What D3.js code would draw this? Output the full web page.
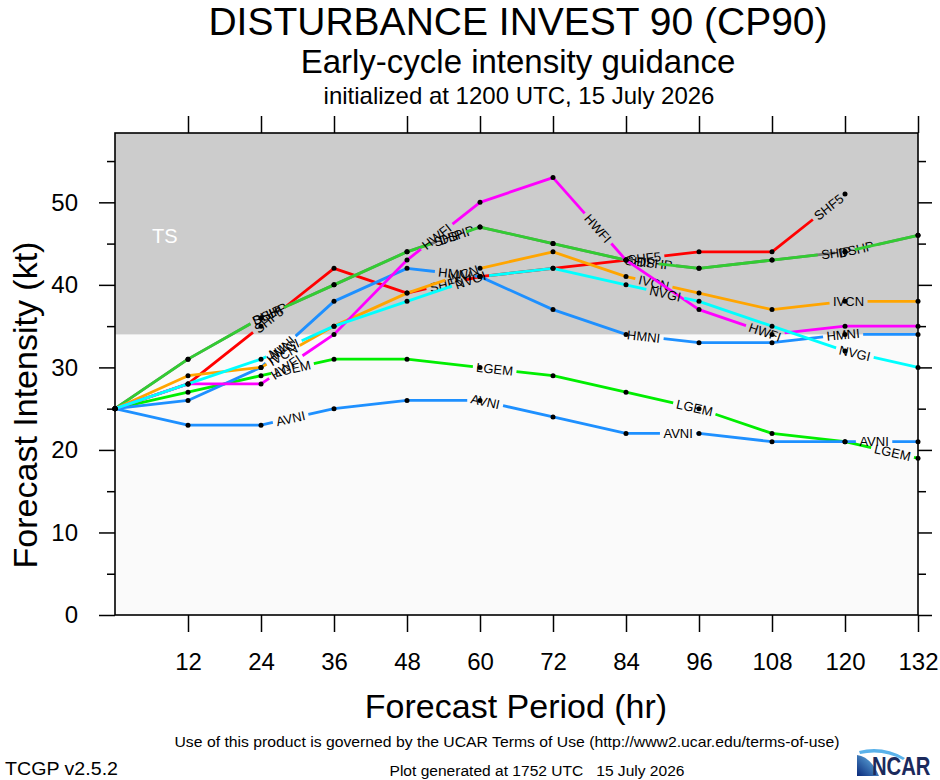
<!DOCTYPE html>
<html>
<head>
  <meta charset="utf-8">
  <script src="https://cdn.jsdelivr.net/npm/d3@7"></script>
  <style>
    body { margin: 0; background: #fff; }
    text { font-family: "Liberation Sans", Arial, Helvetica, sans-serif; }
  </style>
</head>
<body>
<div id="chart"></div>
<script>
// forecast hours and axis ticks
const hours = [0, 12, 24, 36, 48, 60, 72, 84, 96, 108, 120, 132];
const xTicks = [12, 24, 36, 48, 60, 72, 84, 96, 108, 120, 132];
const yTicks = [0, 10, 20, 30, 40, 50];
const yMinor = [5, 15, 25, 35, 45, 55];

// intensity (kt) per model
const models = ["SHF5", "DSHP", "SHIP", "LGEM", "AVNI", "HMNI", "IVCN", "HWFI", "NVGI"];
const shf5 = [25, 28, 35, 42, 39, 41, 42, 43, 44, 44, 51];
const dshp = [25, 31, 36, 40, 44, 47, 45, 43, 42, 43, 44, 46];
const ship = [25, 31, 36, 40, 44, 47, 45, 43, 42, 43, 44, 46];
const lgem = [25, 27, 29, 31, 31, 30, 29, 27, 25, 22, 21, 19];
const avni = [25, 23, 23, 25, 26, 26, 24, 22, 22, 21, 21, 21];
const hmni = [25, 26, 30, 38, 42, 41, 37, 34, 33, 33, 34, 34];
const ivcn = [25, 29, 30, 35, 39, 42, 44, 41, 39, 37, 38, 38];
const hwfi = [25, 28, 28, 34, 43, 50, 53, 43, 37, 34, 35, 35];
const nvgi = [25, 28, 31, 35, 38, 41, 42, 40, 38, 35, 32, 30];

const tsThreshold = 34;

const values = { SHF5: shf5, DSHP: dshp, SHIP: ship, LGEM: lgem, AVNI: avni,
                 HMNI: hmni, IVCN: ivcn, HWFI: hwfi, NVGI: nvgi };
const colors = { SHF5: "#ff0000", DSHP: "#7a7a7a", SHIP: "#33cc33", LGEM: "#00ee00",
                 AVNI: "#1e90ff", HMNI: "#1e90ff", IVCN: "#ffa500", HWFI: "#ff00ff",
                 NVGI: "#00ffff" };

const width = 940, height = 780;
const plotL = 115, plotR = 918, plotT = 133, plotB = 615;

const svg = d3.select("#chart").append("svg")
  .attr("width", width)
  .attr("height", height);

const x = d3.scaleLinear().domain([0, 132]).range([plotL, plotR]);
const y = d3.scaleLinear().domain([0, 58.4]).range([plotB, plotT]);

// background bands
svg.append("rect")
  .attr("x", plotL).attr("y", plotT)
  .attr("width", plotR - plotL).attr("height", plotB - plotT)
  .attr("fill", "#fafafa");
svg.append("rect")
  .attr("x", plotL).attr("y", plotT)
  .attr("width", plotR - plotL).attr("height", y(tsThreshold) - plotT)
  .attr("fill", "#cccccc");
svg.append("text")
  .attr("x", 152).attr("y", 243)
  .attr("font-size", 20).attr("fill", "#fff")
  .text("TS");

// axes
function styleAxis(g) {
  g.select(".domain").remove();
  g.selectAll(".tick line").attr("stroke", "#000").attr("stroke-width", 1.5);
  g.selectAll(".tick text").attr("fill", "#000")
    .style("font-family", '"Liberation Sans", Arial, sans-serif');
}

svg.append("g").attr("transform", `translate(0,${plotB})`)
  .call(d3.axisBottom(x).tickValues(xTicks).tickSize(17).tickPadding(21).tickFormat(d3.format("d")))
  .call(styleAxis)
  .selectAll("text").attr("font-size", 24);

svg.append("g").attr("transform", `translate(0,${plotT})`)
  .call(d3.axisTop(x).tickValues(xTicks).tickSize(17).tickFormat(""))
  .call(styleAxis);

svg.append("g").attr("transform", `translate(${plotL},0)`)
  .call(d3.axisLeft(y).tickValues(yTicks).tickSize(16).tickPadding(21).tickFormat(d3.format("d")))
  .call(styleAxis)
  .selectAll("text").attr("font-size", 24);

svg.append("g").attr("transform", `translate(${plotL},0)`)
  .call(d3.axisLeft(y).tickValues(yMinor).tickSize(8).tickFormat(""))
  .call(styleAxis);

svg.append("g").attr("transform", `translate(${plotR},0)`)
  .call(d3.axisRight(y).tickValues(yTicks).tickSize(14).tickFormat(""))
  .call(styleAxis);

svg.append("g").attr("transform", `translate(${plotR},0)`)
  .call(d3.axisRight(y).tickValues(yMinor).tickSize(8).tickFormat(""))
  .call(styleAxis);

// model lines with NCL-style inline labels
const line = d3.line();
const plot = svg.append("g");
const dotLayer = svg.append("g");
const labelSize = 13;

models.forEach(name => {
  const vals = values[name];
  const pts = vals.map((v, i) => [x(hours[i]), y(v)]);
  const g = plot.append("g");

  const path = g.append("path")
    .attr("d", line(pts))
    .attr("fill", "none")
    .attr("stroke", colors[name])
    .attr("stroke-width", 2.8)
    .attr("stroke-linejoin", "round");

  const node = path.node();
  const total = node.getTotalLength();

  const probe = g.append("text").attr("font-size", labelSize).text(name);
  const w = probe.node().getComputedTextLength();
  probe.remove();

  const gap = w + 7, dash = 160;
  const dashes = [];
  for (let c = dash + gap / 2; c + w / 2 <= total; c += dash + gap) {
    dashes.push(dash, gap);
    const p = node.getPointAtLength(c);
    const p1 = node.getPointAtLength(Math.max(0, c - 3));
    const p2 = node.getPointAtLength(Math.min(total, c + 3));
    const ang = Math.atan2(p2.y - p1.y, p2.x - p1.x) * 180 / Math.PI;
    g.append("text")
      .attr("transform", `translate(${p.x},${p.y}) rotate(${ang})`)
      .attr("text-anchor", "middle")
      .attr("dy", "0.36em")
      .attr("font-size", labelSize)
      .attr("fill", "#000")
      .text(name);
  }
  dashes.push(total + 10, total + 10);
  path.attr("stroke-dasharray", dashes.join(","));

  dotLayer.selectAll(null)
    .data(pts)
    .enter().append("circle")
    .attr("cx", d => d[0])
    .attr("cy", d => d[1])
    .attr("r", 2.5)
    .attr("fill", "#000");
});

// frame
svg.append("rect")
  .attr("x", plotL).attr("y", plotT)
  .attr("width", plotR - plotL).attr("height", plotB - plotT)
  .attr("fill", "none").attr("stroke", "#000").attr("stroke-width", 1.6);

// titles
svg.append("text").attr("x", 518).attr("y", 35)
  .attr("text-anchor", "middle").attr("font-size", 39)
  .text("DISTURBANCE INVEST 90 (CP90)");
svg.append("text").attr("x", 518).attr("y", 73)
  .attr("text-anchor", "middle").attr("font-size", 33)
  .text("Early-cycle intensity guidance");
svg.append("text").attr("x", 519).attr("y", 104)
  .attr("text-anchor", "middle").attr("font-size", 24)
  .text("initialized at 1200 UTC, 15 July 2026");

svg.append("text")
  .attr("transform", "translate(37,405) rotate(-90)")
  .attr("text-anchor", "middle").attr("font-size", 34)
  .text("Forecast Intensity (kt)");
svg.append("text").attr("x", 516).attr("y", 718)
  .attr("text-anchor", "middle").attr("font-size", 34)
  .text("Forecast Period (hr)");

// footer
svg.append("text").attr("x", 507).attr("y", 747)
  .attr("text-anchor", "middle").attr("font-size", 15)
  .attr("textLength", 665).attr("lengthAdjust", "spacingAndGlyphs")
  .text("Use of this product is governed by the UCAR Terms of Use (http://www2.ucar.edu/terms-of-use)");
svg.append("text").attr("x", 5).attr("y", 775)
  .attr("font-size", 19)
  .attr("textLength", 113).attr("lengthAdjust", "spacingAndGlyphs")
  .text("TCGP v2.5.2");
svg.append("text").attr("x", 537).attr("y", 776)
  .attr("text-anchor", "middle").attr("font-size", 14)
  .attr("textLength", 295).attr("lengthAdjust", "spacingAndGlyphs")
  .attr("xml:space", "preserve")
  .text("Plot generated at 1752 UTC   15 July 2026");

// NCAR logo
const defs = svg.append("defs");
const grad = defs.append("linearGradient").attr("id", "ncarGrad")
  .attr("x1", "0%").attr("y1", "100%").attr("x2", "100%").attr("y2", "0%");
grad.append("stop").attr("offset", "0%").attr("stop-color", "#0a2a7a");
grad.append("stop").attr("offset", "100%").attr("stop-color", "#6ec1f0");

const logo = svg.append("g").attr("transform", "translate(857,745)");
logo.append("path")
  .attr("d", "M0,10 Q14,12 22,31 L0,31 Z")
  .attr("fill", "url(#ncarGrad)");
logo.append("path")
  .attr("d", "M2,6 Q26,0 48,13 L46,15 Q26,4 3,9 Z")
  .attr("fill", "#5bb2ea");
logo.append("text")
  .attr("transform", "translate(15,30) scale(0.92,1.15)")
  .attr("font-size", 22).attr("font-weight", "bold")
  .attr("fill", "#1b2a5c")
  .text("NCAR");
</script>
</body>
</html>
